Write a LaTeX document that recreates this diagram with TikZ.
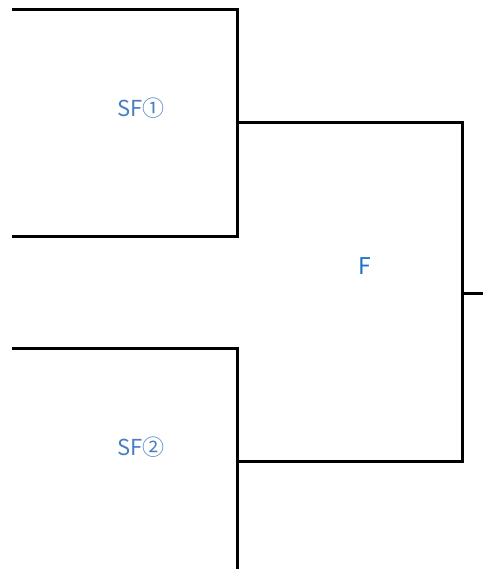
\documentclass[tikz,border=0pt]{standalone}
\usepackage{fontspec}
\setmainfont{Noto Sans CJK JP}
\definecolor{sfblue}{HTML}{4A7EC0}
\definecolor{fblue}{HTML}{1C6FC4}
\begin{document}
\begin{tikzpicture}[x=1pt,y=-1pt,
  bracket/.style={line width=3pt,line cap=butt,line join=miter},
  sflabel/.style={text=sfblue,font=\fontsize{22}{24}\selectfont,inner sep=0pt},
  flabel/.style={text=fblue,font=\fontsize{23}{25}\selectfont,inner sep=0pt}]
\useasboundingbox (0,0) rectangle (483,569);
\coordinate (a1) at (12,10);
\coordinate (a2) at (237,10);
\coordinate (a3) at (237,236);
\coordinate (a4) at (12,236);
\coordinate (b1) at (12,348);
\coordinate (b2) at (237,348);
\coordinate (b3) at (237,569);
\coordinate (c1) at (237,123);
\coordinate (c2) at (462,123);
\coordinate (c3) at (462,461);
\coordinate (c4) at (237,461);
\coordinate (d1) at (462,293);
\coordinate (d2) at (483,293);
\draw[bracket] (a1) -- (a2) -- (a3) -- (a4);
\draw[bracket] (b1) -- (b2) -- (b3);
\draw[bracket] (c1) -- (c2) -- (c3) -- (c4);
\draw[bracket] (d1) -- (d2);
\node[sflabel] (sf1) at (141,108) {SF①};
\node[sflabel] (sf2) at (141,447) {SF②};
\node[flabel] (f) at (365,266) {F};
\end{tikzpicture}
\end{document}
